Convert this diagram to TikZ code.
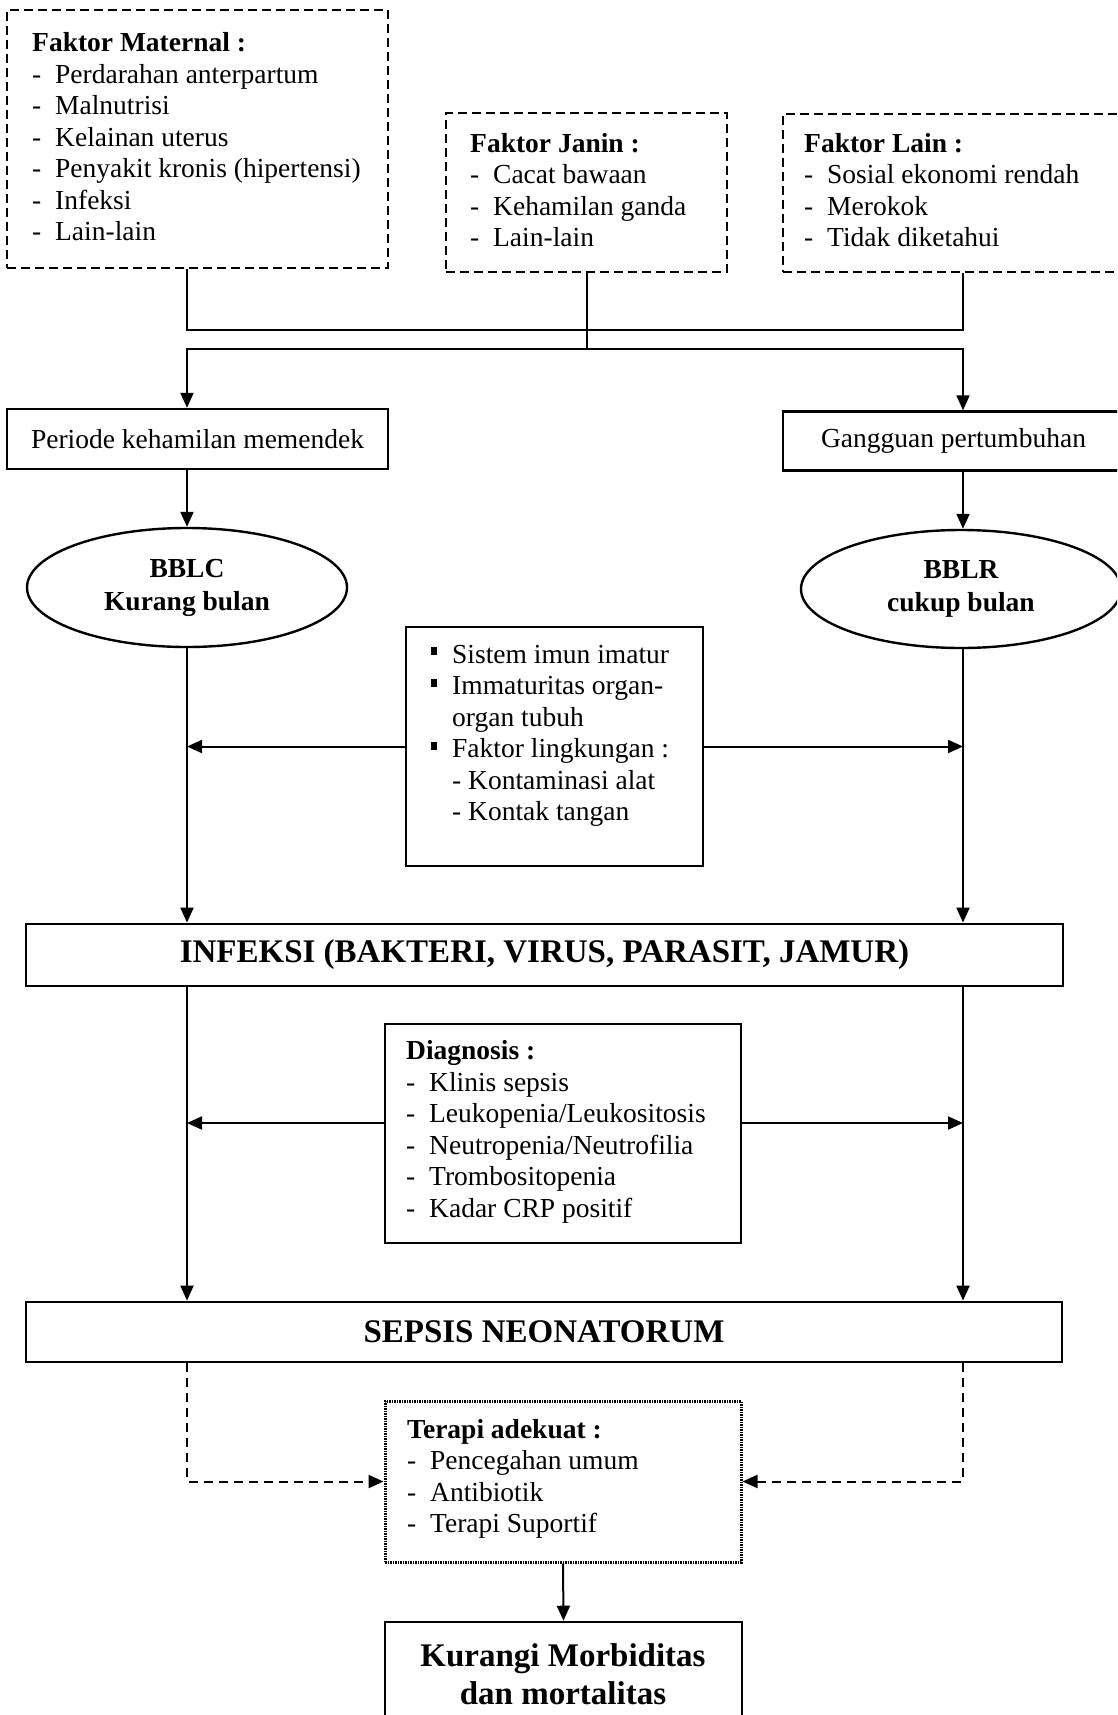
\documentclass[tikz,border=0pt]{standalone}
\usepackage{fontspec}
\setmainfont{Liberation Serif}
\usetikzlibrary{arrows.meta,calc,shapes.geometric}
\newcommand{\dli}[1]{\makebox[23pt][l]{-}#1}
\newcommand{\bli}[1]{\makebox[21pt][l]{\rule[8pt]{6pt}{8pt}}#1}
\newcommand{\fsn}{\fontsize{27.5}{31.5}\selectfont}
\begin{document}
\begin{tikzpicture}[x=1pt,y=-1pt,
  box/.style={draw, line width=2.4pt, rectangle, inner sep=0pt},
  dbox/.style={box, line width=2.2pt, dash pattern=on 9pt off 5pt},
  tbox/.style={box, line width=3pt, dash pattern=on 1.5pt off 1pt},
  txt/.style={align=left, inner sep=0pt, font=\fsn},
  big/.style={font=\fontsize{33}{38}\selectfont\bfseries, inner sep=0pt, align=center},
  conn/.style={line width=2pt},
  arr/.style={conn, -{Triangle[length=15pt,width=13pt]}},
  darr/.style={arr, dash pattern=on 9pt off 6pt}]
\useasboundingbox (0,0) rectangle (1117,1715);
\fill[white] (0,0) rectangle (1117,1715);
\clip (0,0) rectangle (1117,1715);
% column coordinates
\coordinate (cL) at (187,0);
\coordinate (cR) at (963,0);
\coordinate (bar1) at (587,330);
\coordinate (bar2) at (587,349);
\coordinate (dY) at (0,1123);
% top factor boxes
\node[dbox, minimum width=381pt, minimum height=258pt] (mat) at (197.5,139) {};
\node[txt, anchor=west] (matT) at (32,137) {\textbf{Faktor Maternal :}\\
  \dli{Perdarahan anterpartum}\\ \dli{Malnutrisi}\\ \dli{Kelainan uterus}\\
  \dli{Penyakit kronis (hipertensi)}\\ \dli{Infeksi}\\ \dli{Lain-lain}};
\node[dbox, minimum width=281pt, minimum height=159pt] (jan) at (586.5,192.5) {};
\node[txt, anchor=west] (janT) at (470,190) {\textbf{Faktor Janin :}\\
  \dli{Cacat bawaan}\\ \dli{Kehamilan ganda}\\ \dli{Lain-lain}};
\node[dbox, minimum width=347pt, minimum height=158pt] (lain) at (956.5,193) {};
\node[txt, anchor=west] (lainT) at (804,190) {\textbf{Faktor Lain :}\\
  \dli{Sosial ekonomi rendah}\\ \dli{Merokok}\\ \dli{Tidak diketahui}};
% second row
\node[box, minimum width=381pt, minimum height=60pt, font=\fsn] (per) at (197.5,439) {Periode kehamilan memendek};
\node[box, minimum width=341pt, minimum height=59pt, font=\fsn] (gang) at (953.5,441) {Gangguan pertumbuhan};
\node[draw, ellipse, line width=2.4pt, inner sep=0pt, minimum width=320pt, minimum height=119pt, align=center,
  font=\fontsize{27.5}{33}\selectfont\bfseries] (bblc) at (187,587.5) {BBLC\\Kurang bulan};
\node[draw, ellipse, line width=2.4pt, inner sep=0pt, minimum width=320pt, minimum height=118pt, align=center,
  font=\fontsize{27.5}{33}\selectfont\bfseries] (bblr) at (961,589) {BBLR\\cukup bulan};
% middle box
\node[box, minimum width=297pt, minimum height=239pt] (mid) at (554.5,746.5) {};
\node[txt, anchor=west] (midT) at (431,736) {\bli{Sistem imun imatur}\\ \bli{Immaturitas organ-}\\
  \hspace*{21pt}organ tubuh\\ \bli{Faktor lingkungan :}\\ \hspace*{21pt}- Kontaminasi alat\\ \hspace*{21pt}- Kontak tangan};
% infeksi
\node[box, line width=2.8pt, minimum width=1037pt, minimum height=62pt, big] (inf) at (544.5,955) {INFEKSI (BAKTERI, VIRUS, PARASIT, JAMUR)};
% diagnosis
\node[box, minimum width=356pt, minimum height=219pt] (diag) at (563,1133.5) {};
\node[txt, anchor=west] (diagT) at (406,1132) {\textbf{Diagnosis :}\\ \dli{Klinis sepsis}\\ \dli{Leukopenia/Leukositosis}\\
  \dli{Neutropenia/Neutrofilia}\\ \dli{Trombositopenia}\\ \dli{Kadar CRP positif}};
% sepsis
\node[box, line width=2.8pt, minimum width=1036pt, minimum height=60pt, big] (sep) at (544,1332) {SEPSIS NEONATORUM};
% terapi
\node[tbox, minimum width=356pt, minimum height=161pt] (ter) at (563,1481.5) {};
\node[txt, anchor=west] (terT) at (407,1479) {\textbf{Terapi adekuat :}\\ \dli{Pencegahan umum}\\ \dli{Antibiotik}\\ \dli{Terapi Suportif}};
% kurangi
\node[box, line width=2.6pt, minimum width=357pt, minimum height=140pt] (kur) at (563.5,1692) {};
\node[big] (kurT) at (563,1674) {Kurangi Morbiditas\\dan mortalitas};
% connectors
\draw[conn] (mat.south -| cL) |- (bar1) -| (lain.south -| cR);
\draw[conn] (jan.south) -- (jan.south |- bar2);
\draw[arr] (jan.south |- bar2) -| (per.north -| cL);
\draw[arr] (jan.south |- bar2) -| (gang.north -| cR);
\draw[arr] (per.south -| cL) -- (bblc.north);
\draw[arr] (gang.south -| cR) -- (bblr.north -| cR);
\draw[arr] (bblc.south) -- (inf.north -| cL);
\draw[arr] (bblr.south -| cR) -- (inf.north -| cR);
\draw[arr] (mid.west) -- (mid.west -| cL);
\draw[arr] (mid.east) -- (mid.east -| cR);
\draw[arr] (inf.south -| cL) -- (sep.north -| cL);
\draw[arr] (inf.south -| cR) -- (sep.north -| cR);
\draw[arr] (diag.west |- dY) -- (cL |- dY);
\draw[arr] (diag.east |- dY) -- (cR |- dY);
\draw[darr] (sep.south -| cL) |- (ter.west);
\draw[darr] (sep.south -| cR) |- (ter.east);
\draw[arr] (ter.south) -- (kur.north);
\end{tikzpicture}
\end{document}
